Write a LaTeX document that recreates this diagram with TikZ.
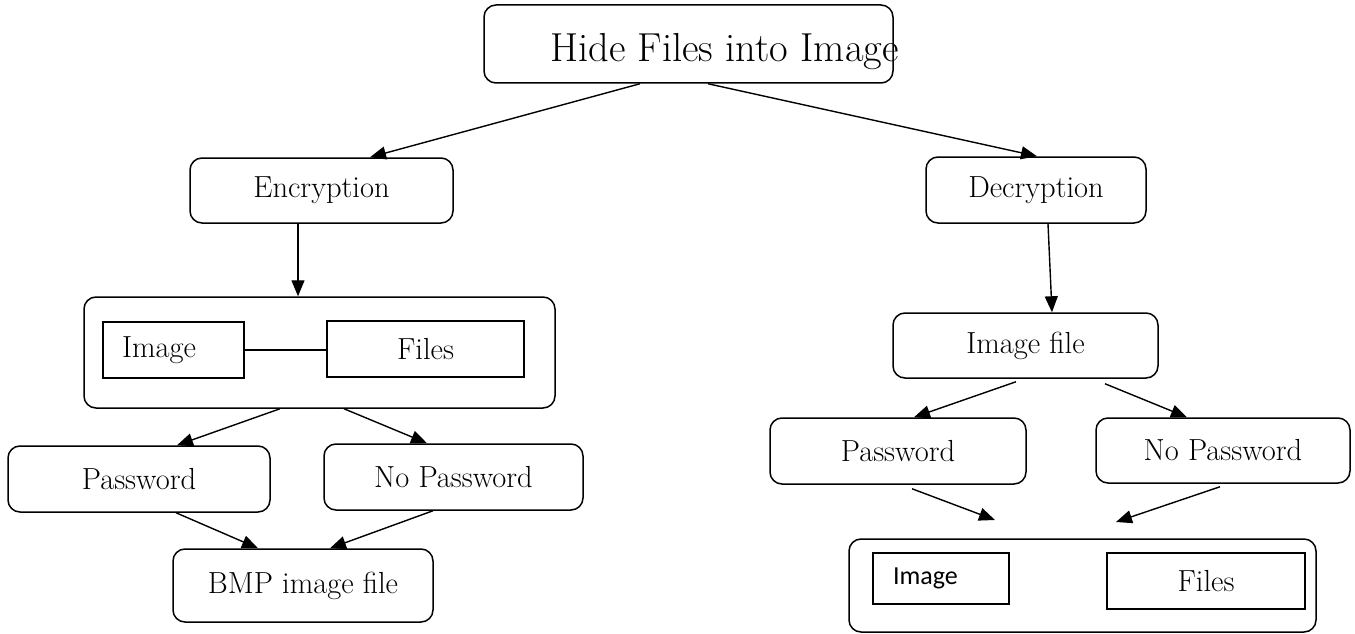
\documentclass[tikz,border=0pt]{standalone}
\usepackage{fontspec}
\newfontfamily\carlito{Carlito}
\usetikzlibrary{arrows.meta}
\tikzset{
  rbox/.style={draw, line width=1.5pt, rounded corners=12pt, inner sep=0pt},
  sqbox/.style={draw, line width=1.4pt, inner sep=0pt},
  arr/.style={line width=1.4pt, -{Triangle[length=16pt,width=13pt]}},
  lbl/.style={font=\fontsize{30.5}{36}\selectfont},
  ttl/.style={font=\fontsize{40.5}{46}\selectfont},
}
\begin{document}
\begin{tikzpicture}[x=1pt,y=-1pt]
\useasboundingbox (0,0) rectangle (1355,634);

% top level
\node[rbox, minimum width=409pt, minimum height=78pt] (top) at (688.5,44) {};
\node[ttl, anchor=base west, inner sep=0pt] (toptext) at (550,62) {Hide Files into Image};

% encryption branch
\node[rbox, lbl, minimum width=263pt, minimum height=65pt] (enc) at (321.5,190.5) {Encryption};
\node[rbox, minimum width=471pt, minimum height=111pt] (bigL) at (319.5,352.5) {};
\node[sqbox, lbl, minimum width=141pt, minimum height=56pt, text width=103pt, align=left, inner xsep=19pt] (imgL) at (173.5,350) {Image};
\node[sqbox, lbl, minimum width=197pt, minimum height=56pt] (filesL) at (425.5,349) {Files};
\node[rbox, lbl, minimum width=262pt, minimum height=66pt] (pwL) at (139,479) {Password};
\node[rbox, lbl, minimum width=259pt, minimum height=66pt] (npL) at (453.5,477) {No Password};
\node[rbox, lbl, minimum width=260pt, minimum height=73pt] (bmp) at (303,585.5) {BMP image file};

% decryption branch
\node[rbox, lbl, minimum width=220pt, minimum height=66pt] (dec) at (1036,190) {Decryption};
\node[rbox, lbl, minimum width=265pt, minimum height=65pt] (imgfile) at (1025.5,345.5) {Image file};
\node[rbox, lbl, minimum width=256pt, minimum height=66pt] (pwR) at (898,451) {Password};
\node[rbox, lbl, minimum width=254pt, minimum height=65pt] (npR) at (1223,450.5) {No Password};
\node[rbox, minimum width=467pt, minimum height=93pt] (bigR) at (1082.5,585.5) {};
\node[sqbox, minimum width=136pt, minimum height=51pt, text width=96pt, align=left, inner xsep=20pt, font=\carlito\fontsize{26}{30}\selectfont] (imgR) at (941,578.5) {\raisebox{-3pt}{Image}};
\node[sqbox, lbl, minimum width=198pt, minimum height=56pt] (filesR) at (1206,581) {Files};

% free arrow ends above the output box
\coordinate (inR1) at (995,520);
\coordinate (inR2) at (1116,522);

% connectors
\draw[arr] ([xshift=-48.5pt]top.south) -- ([xshift=48.5pt]enc.north);
\draw[arr] ([xshift=19.5pt]top.south) -- ([xshift=1pt]dec.north);

\draw[arr] ([xshift=-23.5pt]enc.south) -- ([xshift=-21.5pt]bigL.north);
\draw[line width=1.3pt] (imgL.east) -- (imgL.east -| filesL.west);
\draw[arr] ([xshift=-39.5pt]bigL.south) -- ([xshift=38pt]pwL.north);
\draw[arr] ([xshift=24.5pt]bigL.south) -- ([xshift=-26.5pt]npL.north);
\draw[arr] ([xshift=37pt]pwL.south) -- ([xshift=-45pt]bmp.north);
\draw[arr] ([xshift=-20.5pt]npL.south) -- ([xshift=27pt]bmp.north);

\draw[arr] ([xshift=12pt]dec.south) -- ([xshift=26.5pt]imgfile.north);
\draw[arr] ([xshift=-9.5pt,yshift=-3pt]imgfile.south) -- ([xshift=16pt]pwR.north);
\draw[arr] ([xshift=79.5pt,yshift=-5pt]imgfile.south) -- ([xshift=-36pt]npR.north);
\draw[arr] ([xshift=14pt,yshift=-4pt]pwR.south) -- (inR1);
\draw[arr] ([xshift=-3pt,yshift=-3pt]npR.south) -- (inR2);
\end{tikzpicture}
\end{document}
